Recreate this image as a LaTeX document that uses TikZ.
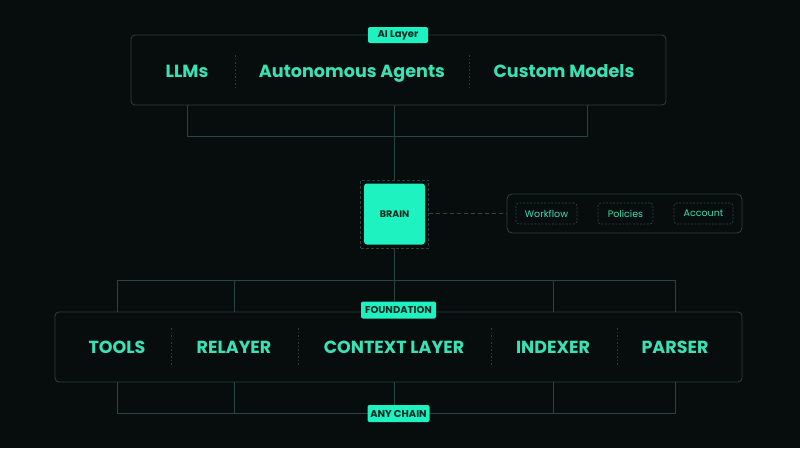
\documentclass[tikz,border=0pt]{standalone}
\usepackage{fontspec}
\setmainfont{Poppins}
\definecolor{bg}{HTML}{060D0C}
\definecolor{mint}{HTML}{1EF2C0}
\definecolor{minttext}{HTML}{3BE0B5}
\definecolor{wire}{HTML}{2C4440}
\definecolor{frame}{HTML}{2B3B39}
\definecolor{darktext}{HTML}{0A2A22}
\tikzset{
  layerbox/.style={draw=frame, line width=0.9pt, rounded corners=4pt, inner sep=0pt},
  tag/.style={fill=mint, rounded corners=2pt, inner sep=0pt, text=darktext, font=\fontsize{10}{11}\selectfont\bfseries},
  bigtxt/.style={text=minttext, font=\fontsize{17.6}{20}\selectfont\bfseries, inner sep=0pt, anchor=base},
  captxt/.style={text=minttext, font=\fontsize{17.5}{20}\selectfont\bfseries, inner sep=0pt, anchor=base},
  subbox/.style={draw=wire, dashed, dash pattern=on 2pt off 1.5pt, line width=0.7pt, rounded corners=3pt, inner sep=0pt, text=minttext, font=\fontsize{9.5}{10}\selectfont},
  wireline/.style={draw=wire, line width=0.9pt},
  sep/.style={draw=frame, line width=0.9pt, dash pattern=on 1.5pt off 2pt},
}
\begin{document}
\begin{tikzpicture}[x=1pt, y=-1pt]
\fill[bg] (0,0) rectangle (800,448);
\useasboundingbox (0,0) rectangle (800,448);

% ---------- AI layer ----------
\node[layerbox, minimum width=535pt, minimum height=70pt] (ai) at (398.5,70) {};
\node[bigtxt] (llm) at (187,77.5) {LLMs};
\node[bigtxt] (agents) at (352,77.5) {Autonomous Agents};
\node[bigtxt] (custom) at (564,77.5) {Custom Models};
\draw[sep] (235,55) -- (235,88);
\draw[sep] (469,55) -- (469,88);
\node[tag, minimum width=60pt, minimum height=16pt] (ailabel) at (398,35) {AI Layer};

% ---------- Brain ----------
\node[draw=wire, dashed, dash pattern=on 3pt off 2pt, line width=0.8pt, minimum width=68pt, minimum height=68pt, inner sep=0pt] (brainouter) at (394.5,214) {};
\node[fill=mint, rounded corners=3pt, minimum width=61pt, minimum height=61pt, inner sep=0pt, text=darktext, font=\fontsize{9.5}{10}\selectfont\bfseries] (brain) at (394.5,214) {BRAIN};

% connectors AI -> brain
\coordinate (j1) at (187,136);
\coordinate (j2) at (587,136);
\draw[wireline] (ai.south -| j1) -- (j1) -- (j2) -- (ai.south -| j2);
\draw[wireline] (ai.south -| brain) -- (brainouter.north);

% ---------- side panel ----------
\node[layerbox, rounded corners=5pt, minimum width=235pt, minimum height=39pt] (panel) at (624.5,213.5) {};
\node[subbox, minimum width=61pt, minimum height=21pt] (workflow) at (546.5,213.5) {Workflow};
\node[subbox, minimum width=55pt, minimum height=21pt] (policies) at (625.5,213.5) {Policies};
\node[subbox, minimum width=59pt, minimum height=21pt] (account) at (703.5,213.5) {Account};
\draw[wireline, dashed, dash pattern=on 4pt off 3pt] (brainouter.east |- panel.west) -- (panel.west);

% ---------- Foundation ----------
\node[layerbox, minimum width=687pt, minimum height=70pt] (found) at (398.5,347) {};
\node[captxt] (tools) at (117,353.5) {TOOLS};
\node[captxt] (relayer) at (234,353.5) {RELAYER};
\node[captxt] (context) at (394,353.5) {CONTEXT LAYER};
\node[captxt] (indexer) at (553,353.5) {INDEXER};
\node[captxt] (parser) at (675,353.5) {PARSER};
\draw[sep] (171,328) -- (171,365);
\draw[sep] (298,328) -- (298,365);
\draw[sep] (491,328) -- (491,365);
\draw[sep] (617,328) -- (617,365);

% top bus
\coordinate (t1) at (117,280);
\coordinate (t5) at (675,280);
\draw[wireline] (found.north -| t1) -- (t1) -- (t5) -- (found.north -| t5);
\draw[wireline] (found.north -| relayer) -- (relayer |- t1);
\draw[wireline] (found.north -| indexer) -- (indexer |- t1);

% bottom bus
\coordinate (b1) at (117,413);
\coordinate (b5) at (675,413);
\draw[wireline] (found.south -| b1) -- (b1) -- (b5) -- (found.south -| b5);
\draw[wireline] (found.south -| relayer) -- (relayer |- b1);
\draw[wireline] (found.south -| indexer) -- (indexer |- b1);
\draw[wireline] (found.south -| context) -- (context |- b1);

\node[tag, minimum width=75pt, minimum height=17pt] (foundlabel) at (398.5,310) {FOUNDATION};
\node[tag, minimum width=62pt, minimum height=17pt] (anylabel) at (398.5,413.5) {ANY CHAIN};

% brain -> foundation
\draw[wireline] (brainouter.south) -- (brainouter.south |- foundlabel.north);
\end{tikzpicture}
\end{document}
